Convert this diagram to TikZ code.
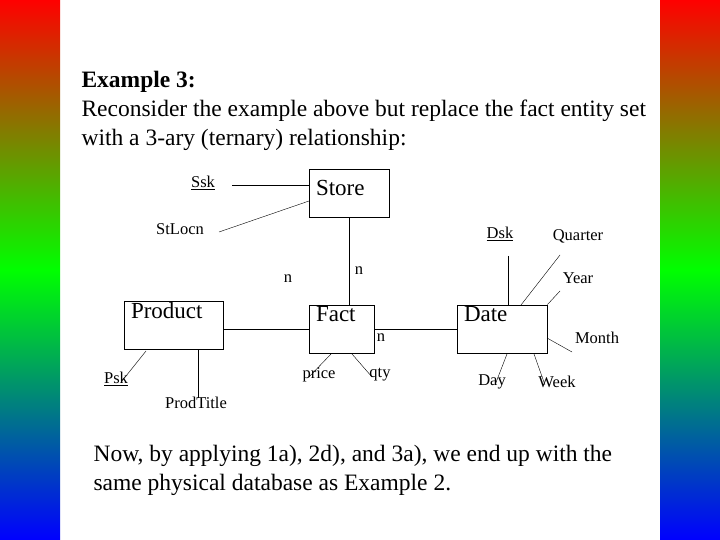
\documentclass[tikz,border=0pt]{standalone}
\usepackage{fontspec}
\setmainfont{Liberation Serif}
\usetikzlibrary{positioning}
\tikzset{
  entity/.style={draw,thick,inner xsep=5pt,inner ysep=3pt,text height=24pt,text depth=18pt,font=\fontsize{23}{26}\selectfont},
  high/.style={text height=14pt,text depth=28pt},
  attr/.style={font=\fontsize{16.5}{19}\selectfont},
  body/.style={anchor=base west,align=left,font=\fontsize{23.5}{29}\selectfont},
  link/.style={thick}
}
\begin{document}
\begin{tikzpicture}[x=1pt,y=1pt]
  \useasboundingbox (0,0) rectangle (720,540);
  % side bars
  \shade[top color=red,bottom color=blue,middle color=green] (0,0) rectangle (60,540);
  \shade[top color=red,bottom color=blue,middle color=green] (660,0) rectangle (720,540);

  % heading
  \node[body] (head) at (78,452) {\textbf{Example 3:}};
  \node[body] (intro) at (78,423) {Reconsider the example above but replace the fact entity set};
  \node[body] (intro2) at (78,394) {with a 3-ary (ternary) relationship:};

  % entity boxes
  \node[entity,minimum width=80pt,text width=66pt] (store) at (349,347) {Store};
  \node[entity,high,minimum width=99pt,text width=85pt] (product) at (173.5,214.5) {Product};
  \node[entity,high,minimum width=65pt,text width=51pt] (fact) at (341.5,211) {Fact};
  \node[entity,high,minimum width=90pt,text width=76pt] (date) at (502,211) {Date};

  % relationship lines
  \draw[link] (store.south) -- (store.south |- fact.north);
  \draw[link] (fact.west -| product.east) -- (fact.west);
  \draw[link] (fact.east) -- (date.west);

  % attribute labels
  \node[attr] (ssk) at (203,357) {\underline{Ssk}};
  \node[attr] (stlocn) at (180,311) {StLocn};
  \node[attr] (dsk) at (500,306) {\underline{Dsk}};
  \node[attr] (quarter) at (578,304) {Quarter};
  \node[attr] (year) at (578,262) {Year};
  \node[attr] (month) at (597,202) {Month};
  \node[attr] (psk) at (116,161) {\underline{Psk}};
  \node[attr] (prodtitle) at (196,137) {ProdTitle};
  \node[attr] (price) at (319,165) {price};
  \node[attr] (qty) at (380,165) {qty};
  \node[attr] (day) at (492,158) {Day};
  \node[attr] (week) at (557,158) {Week};
  \node[attr] (n1) at (288,261) {n};
  \node[attr] (n2) at (359,269) {n};
  \node[attr] (n3) at (381,202) {n};

  % attribute line ends
  \coordinate (ssk-e) at (232,355);
  \coordinate (stlocn-e) at (219,308);
  \coordinate (stlocn-b) at (309,339);
  \coordinate (psk-e) at (122,159);
  \coordinate (psk-b) at (146,189);
  \coordinate (title-e) at (198,142);
  \coordinate (price-e) at (309,163);
  \coordinate (price-b) at (331,186);
  \coordinate (qty-e) at (372,163);
  \coordinate (qty-b) at (352,186);
  \coordinate (dsk-e) at (508,284);
  \coordinate (quarter-e) at (560,285);
  \coordinate (quarter-b) at (521,235);
  \coordinate (year-e) at (560,249);
  \coordinate (month-e) at (572,188);
  \coordinate (month-b) at (547,202);
  \coordinate (day-e) at (495,155);
  \coordinate (day-b) at (507,186);
  \coordinate (week-e) at (545,155);
  \coordinate (week-b) at (534,186);

  \draw (ssk-e) -- (store.west |- ssk-e);
  \draw (stlocn-e) -- (stlocn-b);
  \draw (psk-e) -- (psk-b);
  \draw (title-e) -- (title-e |- product.south);
  \draw (price-e) -- (price-b);
  \draw (qty-e) -- (qty-b);
  \draw (dsk-e) -- (dsk-e |- date.north);
  \draw (quarter-e) -- (quarter-b);
  \draw (year-e) -- (date.north east);
  \draw (month-e) -- (month-b);
  \draw (day-e) -- (day-b);
  \draw (week-e) -- (week-b);

  % closing remark
  \node[body] (outro) at (90,78) {Now, by applying 1a), 2d), and 3a), we end up with the};
  \node[body] (outro2) at (90,49) {same physical database as Example 2.};
\end{tikzpicture}
\end{document}
